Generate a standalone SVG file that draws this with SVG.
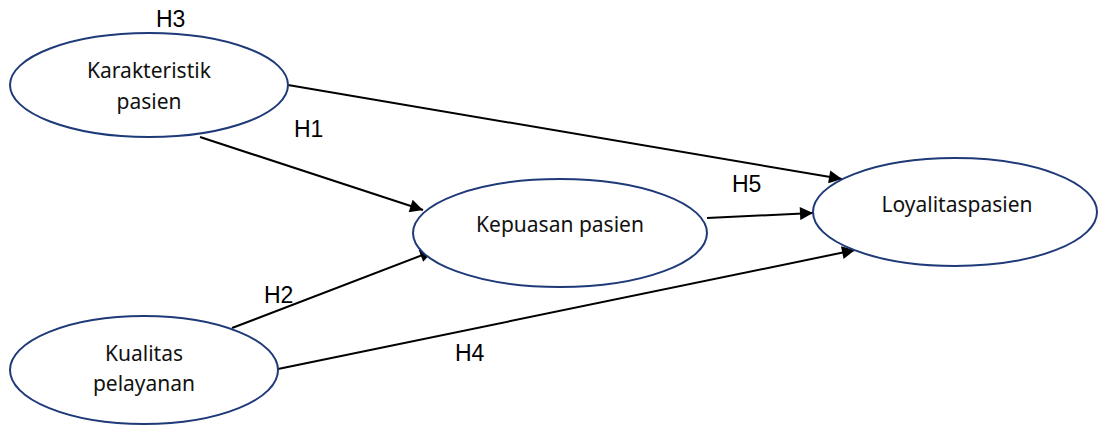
<svg xmlns="http://www.w3.org/2000/svg" width="1100" height="426" viewBox="0 0 1100 426">
  <style>
    .node { fill: #ffffff; stroke: #1f3a78; stroke-width: 2; }
    .label { font-family: "Noto Sans", "Open Sans", sans-serif; font-size: 21px; fill: #111111; text-anchor: middle; }
    .hyp { font-family: "Liberation Sans", Arial, sans-serif; font-size: 23px; fill: #000000; }
    .edge { stroke: #000000; stroke-width: 2; fill: none; marker-end: url(#arrow); }
  </style>
  <defs>
    <marker id="arrow" viewBox="0 0 10 10" refX="10" refY="5" markerWidth="8.5" markerHeight="6.5" markerUnits="strokeWidth" orient="auto">
      <path d="M0,0 L10,5 L0,10 z" fill="#000000"/>
    </marker>
  </defs>
  <rect width="1100" height="426" fill="#ffffff"/>

  <g id="edges">
    <line class="edge" x1="288" y1="85" x2="842" y2="179"/>
    <line class="edge" x1="200" y1="137" x2="423" y2="210"/>
    <line class="edge" x1="232" y1="328" x2="433" y2="251"/>
    <line class="edge" x1="278" y1="369" x2="855" y2="250"/>
    <line class="edge" x1="707" y1="218" x2="813" y2="213"/>
  </g>

  <g id="karakteristik">
    <ellipse class="node" cx="149" cy="85" rx="139" ry="52"/>
    <text class="label" x="149" y="78">Karakteristik</text>
    <text class="label" x="149" y="109">pasien</text>
  </g>

  <g id="kepuasan">
    <ellipse class="node" cx="560" cy="233" rx="147" ry="54"/>
    <text class="label" x="560" y="232">Kepuasan pasien</text>
  </g>

  <g id="loyalitas">
    <ellipse class="node" cx="955" cy="212" rx="142" ry="54"/>
    <text class="label" x="957" y="212">Loyalitaspasien</text>
  </g>

  <g id="kualitas">
    <ellipse class="node" cx="144" cy="370" rx="134" ry="54"/>
    <text class="label" x="144" y="361">Kualitas</text>
    <text class="label" x="144" y="391">pelayanan</text>
  </g>

  <g id="hypotheses">
    <text class="hyp" x="156" y="27">H3</text>
    <text class="hyp" x="294" y="137">H1</text>
    <text class="hyp" x="264" y="303">H2</text>
    <text class="hyp" x="455" y="361">H4</text>
    <text class="hyp" x="732" y="192">H5</text>
  </g>
</svg>
